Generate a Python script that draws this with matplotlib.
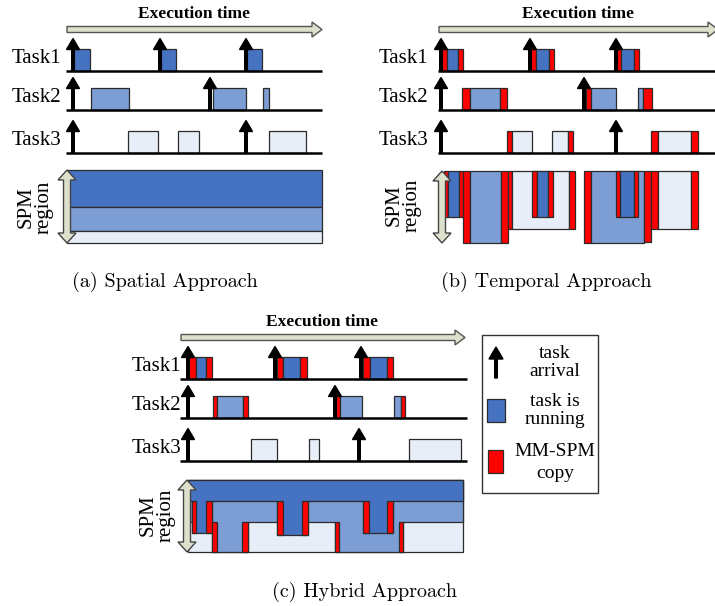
import matplotlib
matplotlib.use("Agg")
import matplotlib.pyplot as plt
from matplotlib.patches import Rectangle, Polygon, FancyArrow

# ---- data: times in px-like units from the first arrival ----
TASKS = ["Task1", "Task2", "Task3"]

# (a) spatial
A_ARRIVALS = [[0, 87, 173], [0, 137], [0, 173]]
A_RUNS = [
    [(1, 17, "r"), (88, 103, "r"), (174, 189, "r")],
    [(18, 56, "r"), (140, 173, "r"), (190, 196, "r")],
    [(55, 85, "r"), (105, 126, "r"), (196, 233, "r")],
]
A_SPM_BANDS = [(0, 37, "1"), (37, 61, "2"), (61, 73, "3")]

# (b) temporal  ("c" = MM-SPM copy)
B_ARRIVALS = [[0, 89, 175], [0, 143], [0, 175]]
B_RUNS = [
    [(1, 6, "c"), (6, 17, "r"), (17, 22, "c"), (90, 95, "c"), (95, 108, "r"),
     (108, 113, "c"), (176, 180, "c"), (180, 193, "r"), (193, 198, "c")],
    [(21, 29, "c"), (29, 59, "r"), (59, 66, "c"), (145, 150, "c"), (150, 175, "r"),
     (197, 202, "r"), (202, 211, "c")],
    [(66, 71, "c"), (71, 91, "r"), (111, 127, "r"), (127, 132, "c"),
     (210, 217, "c"), (217, 250, "r"), (250, 257, "c")],
]
# (start, end, depth, kind)
B_SPM = [
    (3, 7, 46, "c"), (7, 18, 46, "1"), (18, 22, 46, "c"),
    (22, 29, 72, "c"), (29, 60, 72, "2"), (60, 67, 72, "c"),
    (67, 71, 58, "c"), (71, 128, 58, "3"), (128, 134, 58, "c"),
    (91, 96, 46, "c"), (96, 107, 46, "1"), (107, 112, 46, "c"),
    (143, 150, 72, "c"), (150, 203, 72, "2"),
    (175, 179, 46, "c"), (179, 193, 46, "1"), (193, 197, 46, "c"),
    (203, 210, 71, "c"), (210, 217, 58, "c"), (217, 250, 58, "3"), (250, 257, 58, "c"),
]

# (c) hybrid
C_ARRIVALS = [[0, 87, 173], [0, 147], [0, 171]]
C_RUNS = [
    [(1, 8, "c"), (8, 18, "r"), (18, 24, "c"), (89, 95, "c"), (95, 112, "r"),
     (112, 119, "c"), (175, 182, "c"), (182, 199, "r"), (199, 205, "c")],
    [(25, 29, "c"), (29, 55, "r"), (55, 60, "c"), (148, 152, "c"), (152, 174, "r"),
     (206, 213, "r"), (213, 217, "c")],
    [(63, 89, "r"), (121, 131, "r"), (221, 273, "r")],
]
C_SPM_END = 275
C_SPM_LEVELS = [0, 21, 42, 72]
C_SPM_DIPS = [(4, 24, 53), (89, 120, 55), (175, 205, 53)]
C_SPM_EXT = [(24, 60), (147, 215)]
C_SPM_COPIES = [(4, 8, 21, 53), (18, 24, 21, 53), (89, 95, 21, 55), (114, 120, 21, 55),
                (175, 181, 21, 53), (199, 205, 21, 53), (24, 29, 42, 72), (54, 60, 42, 72),
                (147, 151, 42, 72), (211, 215, 42, 72)]

COL = {"1": "#4673C1", "2": "#7C9ED4", "3": "#E8EEF7", "c": "#FF0000"}
EDGE = "#2b2b2b"
ARROW_FILL = "#DDE1CC"
SERIF = "Liberation Serif"

fig = plt.figure(figsize=(7.15, 6.06), dpi=100)
ax = fig.add_axes([0, 0, 1, 1])
ax.set_xlim(0, 715)
ax.set_ylim(606, 0)
ax.axis("off")


def rect(x0, x1, y0, y1, color, z=2):
    ax.add_patch(Rectangle((x0, y0), x1 - x0, y1 - y0, fc=color, ec=EDGE, lw=0.9, zorder=z))


def double_arrow(x, ytop, ybot, hw=3.5, hh=9, hl=10):
    pts = [(x, ytop), (x + hh, ytop + hl), (x + hw, ytop + hl), (x + hw, ybot - hl),
           (x + hh, ybot - hl), (x, ybot), (x - hh, ybot - hl), (x - hw, ybot - hl),
           (x - hw, ytop + hl), (x - hh, ytop + hl)]
    ax.add_patch(Polygon(pts, closed=True, fc=ARROW_FILL, ec="#444444", lw=1, zorder=8))


def timeline(x0, yex, t0, t1, arrivals, runs, lab_dx, ex_end):
    ax.add_patch(FancyArrow(x0 + t0 + 1, yex, ex_end - t0 - 1, 0, width=6, head_width=15,
                            head_length=10, length_includes_head=True, fc=ARROW_FILL,
                            ec="#555555", lw=1, zorder=3))
    ax.text(x0 + (t0 + ex_end) / 2, yex - 16, "Execution time", fontfamily=SERIF,
            fontweight="bold", fontsize=12.5, ha="center", va="center")
    for i, (name, arr, segs) in enumerate(zip(TASKS, arrivals, runs)):
        base = yex + [41, 80, 123][i]
        ax.plot([x0 + t0, x0 + t1], [base, base], color="black", lw=1.8, zorder=4,
                solid_capstyle="butt")
        for s, e, k in segs:
            rect(x0 + s, x0 + e, base - 22, base, COL["c"] if k == "c" else COL[str(i + 1)])
        for a in arr:
            ax.add_patch(FancyArrow(x0 + a, base, 0, -32, width=2.6, head_width=13,
                                    head_length=11, length_includes_head=True,
                                    color="black", zorder=6))
        ax.text(x0 + lab_dx, base - 12, name, fontfamily=SERIF, fontsize=15,
                ha="right", va="center")


def spm_label(x, y):
    ax.text(x, y, "SPM\nregion", fontfamily=SERIF, fontsize=15, rotation=90,
            ha="center", va="center", linespacing=0.9)


def caption(x, y, s):
    ax.text(x, y, s, fontfamily="cmr10", fontsize=14.5, ha="center", va="center")


# (a)
xa = 73
timeline(xa, 29.5, -7, 249, A_ARRIVALS, A_RUNS, -12, 249)
for y0, y1, k in A_SPM_BANDS:
    rect(xa - 6, xa + 249, 170 + y0, 170 + y1, COL[k])
double_arrow(xa - 6, 170, 243)
spm_label(35, 207)
caption(165, 282, "(a) Spatial Approach")

# (b)
xb = 441
timeline(xb, 29.5, -3, 276, B_ARRIVALS, B_RUNS, -13, 277)
for s, e, d, k in B_SPM:
    rect(xb + s, xb + e, 171, 171 + d, COL[k])
double_arrow(xb + 1, 171, 243)
spm_label(403, 205)
caption(546, 282, "(b) Temporal Approach")

# (c)
xc = 188
yt = 480
timeline(xc, 337.5, -8, 279, C_ARRIVALS, C_RUNS, -7, 277)
lv = [yt + v for v in C_SPM_LEVELS]
rect(xc, xc + C_SPM_END, lv[0], lv[3], COL["3"])
mid = [(xc, lv[0]), (xc + C_SPM_END, lv[0]), (xc + C_SPM_END, lv[2])]
for s, e in reversed(C_SPM_EXT):
    mid += [(xc + e, lv[2]), (xc + e, lv[3]), (xc + s, lv[3]), (xc + s, lv[2])]
mid += [(xc, lv[2])]
ax.add_patch(Polygon(mid, closed=True, fc=COL["2"], ec=EDGE, lw=0.9, zorder=2))
top = [(xc, lv[0]), (xc + C_SPM_END, lv[0]), (xc + C_SPM_END, lv[1])]
for s, e, d in reversed(C_SPM_DIPS):
    top += [(xc + e, lv[1]), (xc + e, yt + d), (xc + s, yt + d), (xc + s, lv[1])]
top += [(xc, lv[1])]
ax.add_patch(Polygon(top, closed=True, fc=COL["1"], ec=EDGE, lw=0.9, zorder=2))
for s, e, y0, y1 in C_SPM_COPIES:
    rect(xc + s, xc + e, yt + y0, yt + y1, COL["c"], z=3)
double_arrow(xc - 1, lv[0], lv[3])
spm_label(157, 515)
caption(364, 592, "(c) Hybrid Approach")

# legend
ax.add_patch(Rectangle((482, 335), 116, 158, fc="white", ec="#333333", lw=1, zorder=1))
ax.add_patch(FancyArrow(496, 378, 0, -31, width=2.6, head_width=14, head_length=12,
                        length_includes_head=True, color="black", zorder=6))
rect(487, 505, 399, 422, COL["1"])
rect(488, 503, 450, 473, COL["c"])
for y, s in [(353, "task"), (372, "arrival"), (402, "task is"), (420, "running"),
             (452, "MM-SPM"), (474, "copy")]:
    ax.text(555, y, s, fontfamily=SERIF, fontsize=14, ha="center", va="center")

fig.savefig("out.png", dpi=100)
